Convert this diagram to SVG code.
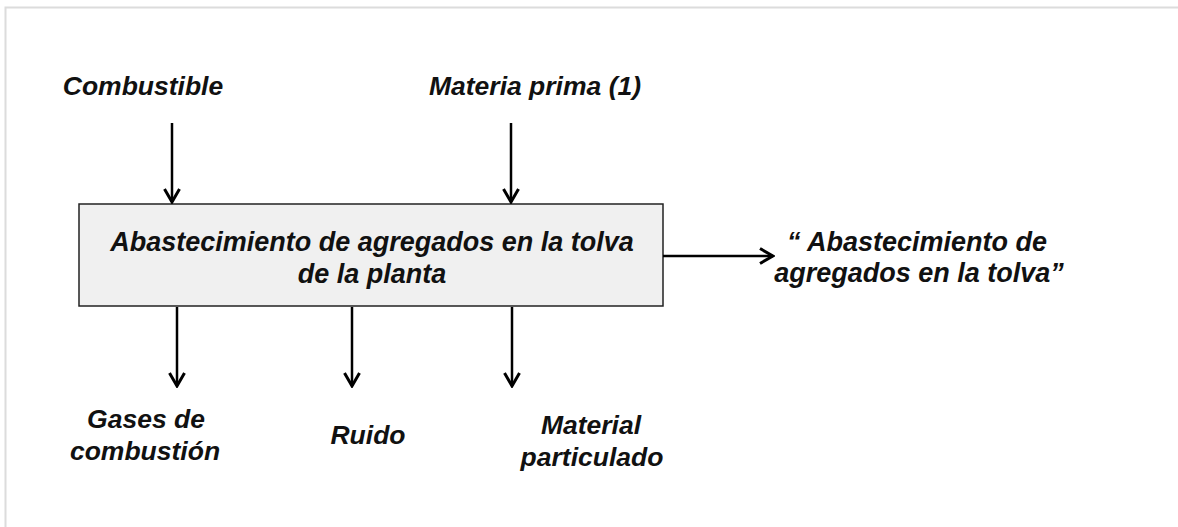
<svg xmlns="http://www.w3.org/2000/svg" width="1178" height="527" viewBox="0 0 1178 527">
<defs>
<marker id="ah" viewBox="0 0 18 18" refX="16" refY="9" markerWidth="18" markerHeight="18" markerUnits="userSpaceOnUse" orient="auto">
<path d="M3,1.5 L16,9 L3,16.5" fill="none" stroke="#000" stroke-width="3" stroke-linejoin="miter"/>
</marker>
</defs>
<style>
.t{font-family:"Liberation Sans",Arial,sans-serif;font-weight:bold;font-style:italic;font-size:26.5px;fill:#111;text-anchor:middle}
.b{font-size:27px}
.c{stroke:#000;stroke-width:2.5;fill:none;marker-end:url(#ah)}
.box{fill:#f0f0f0;stroke:#222;stroke-width:1.5}
</style>
<rect width="1178" height="527" fill="#fff"/>
<path d="M5.5,527 L5.5,7.5 L1178,7.5" fill="none" stroke="#dcdcdc" stroke-width="2"/>
<g id="n-combustible"><text class="t" x="143" y="95">Combustible</text></g>
<g id="n-materia"><text class="t" x="535" y="95">Materia prima (1)</text></g>
<g id="n-proceso">
<rect class="box" x="79" y="204" width="584" height="102"/>
<text class="t b" x="372" y="251">Abastecimiento de agregados en la tolva</text>
<text class="t b" x="372" y="283">de la planta</text>
</g>
<g id="n-salida"><text class="t b" x="917" y="251">“ Abastecimiento de</text><text class="t b" x="919" y="282">agregados en la tolva”</text></g>
<g id="n-gases"><text class="t" x="146" y="428">Gases de</text><text class="t" x="145" y="460">combustión</text></g>
<g id="n-ruido"><text class="t" x="368" y="444">Ruido</text></g>
<g id="n-material"><text class="t" x="591" y="434">Material</text><text class="t" x="592" y="466">particulado</text></g>
<g id="connectors">
<line class="c" x1="172" y1="123" x2="172" y2="202"/>
<line class="c" x1="511" y1="123" x2="511" y2="202"/>
<line class="c" x1="663" y1="256" x2="773" y2="256"/>
<line class="c" x1="177" y1="307" x2="177" y2="386"/>
<line class="c" x1="352" y1="307" x2="352" y2="386"/>
<line class="c" x1="512" y1="307" x2="512" y2="386"/>
</g>
</svg>
